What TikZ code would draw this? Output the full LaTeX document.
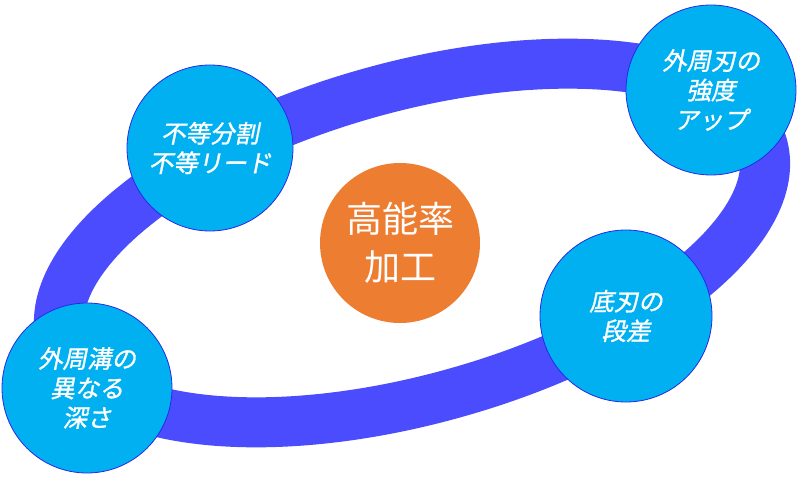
\documentclass[tikz,border=0pt]{standalone}
\usepackage{fontspec}
\newfontfamily\jpit[FakeSlant=0.2,FakeBold=1.2]{Noto Sans CJK JP}
\newfontfamily\jp{Noto Sans CJK JP}
\definecolor{ringblue}{RGB}{76,76,255}
\definecolor{cyanfill}{RGB}{0,176,240}
\definecolor{edgeblue}{RGB}{40,40,230}
\definecolor{orangefill}{RGB}{237,125,49}
\begin{document}
\begin{tikzpicture}[x=1pt,y=1pt,
  topic/.style={circle,fill=cyanfill,draw=edgeblue,line width=0.8pt,inner sep=0pt,
    text=white,align=center,font=\jpit\fontsize{24.5}{29.5}\selectfont},
  hub/.style={circle,fill=orangefill,inner sep=0pt,minimum size=160pt,
    text=white,align=center,font=\jp\fontsize{36}{48}\selectfont}]
\useasboundingbox (0,0) rectangle (800,480);
\draw[ringblue,line width=50pt,rotate around={15.6:(412,237)}] (412,237) ellipse [x radius=364pt,y radius=156pt];
\node[hub] (center) at (400,237) {高能率\\加工};
\node[topic,minimum size=166pt] (split) at (210,332) {不等分割\\不等リード};
\node[topic,minimum size=170pt] (groove) at (87,92) {外周溝の\\異なる\\深さ};
\node[topic,minimum size=170pt] (edge) at (711,390) {外周刃の\\強度\\アップ};
\node[topic,minimum size=172pt] (bottom) at (626,164) {底刃の\\段差};
\end{tikzpicture}
\end{document}
